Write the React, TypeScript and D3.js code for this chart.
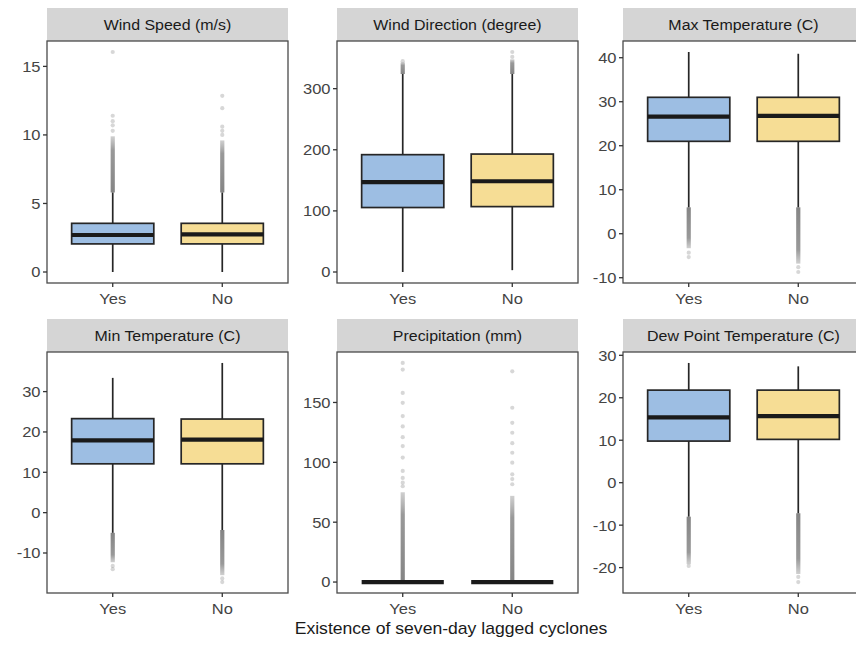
import React from "react";
import * as d3 from "d3";

// ---------- data ----------
const categories = ["Yes", "No"];
const panelTitles = [
  "Wind Speed (m/s)",
  "Wind Direction (degree)",
  "Max Temperature (C)",
  "Min Temperature (C)",
  "Precipitation (mm)",
  "Dew Point Temperature (C)",
];
const xAxisTitle = "Existence of seven-day lagged cyclones";

// box stats [lowerWhisker, q1, median, q3, upperWhisker] for Yes, No
const windSpeedBoxes = [[0, 2.05, 2.7, 3.55, 5.8], [0, 2.05, 2.75, 3.55, 5.8]];
const windDirBoxes = [[0, 105.5, 147, 192, 324], [3, 107, 148.5, 193, 324]];
const maxTempBoxes = [[6.0, 21.0, 26.6, 31.0, 41.3], [6.0, 21.0, 26.8, 31.0, 40.9]];
const minTempBoxes = [[-5.0, 12.1, 17.9, 23.3, 33.4], [-4.3, 12.1, 18.1, 23.2, 37.1]];
const precipBoxes = [[0, 0, 0, 0, 0], [0, 0, 0, 0, 0]];
const dewPointBoxes = [[-8.0, 9.8, 15.4, 21.8, 28.2], [-7.2, 10.2, 15.7, 21.8, 27.4]];

// dense runs of outliers [from, to] for Yes, No
const windSpeedDense = [[5.8, 9.9], [5.8, 9.6]];
const windDirDense = [[324, 343], [324, 348]];
const maxTempDense = [[6.0, -3.3], [6.0, -6.8]];
const minTempDense = [[-5.0, -12.3], [-4.3, -15.5]];
const precipDense = [[0, 75], [0, 72]];
const dewPointDense = [[-8.0, -19.2], [-7.2, -21.5]];

// sparse outliers for Yes, No
const windSpeedSparse = [[10.3, 10.7, 11.0, 11.4, 16.05], [10.0, 10.3, 10.6, 11.95, 12.85]];
const windDirSparse = [[345], [352, 360]];
const maxTempSparse = [[-4.3, -5.3], [-7.6, -8.7]];
const minTempSparse = [[-13.2, -14.0], [-16.3, -17.2]];
const precipSparse = [
  [80, 83, 87, 92.8, 104, 113.6, 121, 130, 138.6, 149.7, 158, 177.5, 183],
  [81.7, 86, 90, 99.7, 108, 116, 124.7, 133, 145.6, 176],
];
const dewPointSparse = [[-19.6], [-22.2, -23.4]];

// y tick labels
const windSpeedTicks = [0, 5, 10, 15];
const windDirTicks = [0, 100, 200, 300];
const maxTempTicks = [-10, 0, 10, 20, 30, 40];
const minTempTicks = [-10, 0, 10, 20, 30];
const precipTicks = [0, 50, 100, 150];
const dewPointTicks = [-20, -10, 0, 10, 20, 30];

// ---------- layout / style ----------
const W = 856;
const H = 645;
const colX = [47, 337, 623];
const panelW = 241;
const rows = [
  { stripTop: 8, top: 41, bottom: 283 },
  { stripTop: 319, top: 352, bottom: 593 },
];
const SX = 1.1;
const FONT = "'Liberation Sans', Arial, Helvetica, sans-serif";
const fills = ["#9dbee3", "#f6dd95"];
const dark = "#262626";

const panels = [
  { boxes: windSpeedBoxes, dense: windSpeedDense, sparse: windSpeedSparse, ticks: windSpeedTicks },
  { boxes: windDirBoxes, dense: windDirDense, sparse: windDirSparse, ticks: windDirTicks },
  { boxes: maxTempBoxes, dense: maxTempDense, sparse: maxTempSparse, ticks: maxTempTicks },
  { boxes: minTempBoxes, dense: minTempDense, sparse: minTempSparse, ticks: minTempTicks },
  { boxes: precipBoxes, dense: precipDense, sparse: precipSparse, ticks: precipTicks },
  { boxes: dewPointBoxes, dense: dewPointDense, sparse: dewPointSparse, ticks: dewPointTicks },
].map((p, i) => ({ ...p, title: panelTitles[i] }));

function Panel({ p, idx }: { p: any; idx: number }) {
  const row = rows[Math.floor(idx / 3)];
  const x0 = colX[idx % 3];
  const all: number[] = [];
  p.boxes.forEach((b: number[]) => all.push(...b));
  p.dense.forEach((d: number[]) => all.push(...d));
  p.sparse.forEach((s: number[]) => all.push(...s));
  const [mn, mx] = d3.extent(all) as [number, number];
  const pad = (mx - mn) * 0.05;
  const y = d3.scaleLinear().domain([mn - pad, mx + pad]).range([row.bottom, row.top]);
  // discrete x scale (ggplot style: 0.6 unit expansion each side)
  const xs = d3.scaleLinear().domain([0.4, 2.6]).range([x0, x0 + panelW]);
  const cx = (i: number) => xs(i + 1);
  const bw = xs(1.75) - xs(1);
  const clipId = `clip${idx}`;
  return (
    <g>
      <defs>
        <clipPath id={clipId}>
          <rect x={x0} y={row.top} width={panelW} height={row.bottom - row.top} />
        </clipPath>
        {p.dense.map((d: number[], i: number) => (
          <linearGradient
            key={i}
            id={`grad${idx}_${i}`}
            gradientUnits="userSpaceOnUse"
            x1={0}
            x2={0}
            y1={y(d[0])}
            y2={y(d[1])}
          >
            <stop offset="0" stopColor="#6f6f6f" stopOpacity={0.85} />
            <stop offset="0.75" stopColor="#777777" stopOpacity={0.75} />
            <stop offset="1" stopColor="#888888" stopOpacity={0.4} />
          </linearGradient>
        ))}
      </defs>
      {/* strip */}
      <rect x={x0} y={row.stripTop} width={panelW} height={row.top - row.stripTop} fill="#d5d5d5" />
      <text
        transform={`translate(${x0 + panelW / 2},${(row.stripTop + row.top) / 2}) scale(${SX},1)`}
        textAnchor="middle"
        dy="0.36em"
        fontSize={14.5}
        fill="#1a1a1a"
        fontFamily={FONT}
      >
        {p.title}
      </text>
      <rect x={x0} y={row.top} width={panelW} height={row.bottom - row.top} fill="#ffffff" />
      <g clipPath={`url(#${clipId})`}>
        {categories.map((c, i) => {
          const b = p.boxes[i];
          const d = p.dense[i];
          return (
            <g key={c}>
              <line x1={cx(i)} x2={cx(i)} y1={y(d[0])} y2={y(d[1])} stroke={`url(#grad${idx}_${i})`} strokeWidth={4.2} />
              {p.sparse[i].map((v: number, k: number) => (
                <circle key={k} cx={cx(i)} cy={y(v)} r={2.1} fill="#7a7a7a" fillOpacity={0.3} />
              ))}
              <line x1={cx(i)} x2={cx(i)} y1={y(b[3])} y2={y(b[4])} stroke={dark} strokeWidth={1.7} />
              <line x1={cx(i)} x2={cx(i)} y1={y(b[1])} y2={y(b[0])} stroke={dark} strokeWidth={1.7} />
              <rect
                x={cx(i) - bw / 2}
                y={y(b[3])}
                width={bw}
                height={Math.max(0, y(b[1]) - y(b[3]))}
                fill={fills[i]}
                stroke={dark}
                strokeWidth={1.7}
              />
              <line x1={cx(i) - bw / 2} x2={cx(i) + bw / 2} y1={y(b[2])} y2={y(b[2])} stroke="#1a1a1a" strokeWidth={4.2} />
            </g>
          );
        })}
      </g>
      <rect
        x={x0}
        y={row.top}
        width={panelW}
        height={row.bottom - row.top}
        fill="none"
        stroke="#4a4a4a"
        strokeWidth={1.3}
      />
      {/* y axis */}
      {p.ticks.map((t: number) => (
        <g key={t}>
          <line x1={x0 - 4} x2={x0} y1={y(t)} y2={y(t)} stroke="#333" strokeWidth={1.3} />
          <text
            transform={`translate(${x0 - 6.5},${y(t)}) scale(${SX},1)`}
            textAnchor="end"
            dy="0.36em"
            fontSize={15}
            fill="#444444"
            fontFamily={FONT}
          >
            {t < 0 ? `-${Math.abs(t)}` : `${t}`}
          </text>
        </g>
      ))}
      {/* x axis */}
      {categories.map((c, i) => (
        <g key={c}>
          <line x1={cx(i)} x2={cx(i)} y1={row.bottom} y2={row.bottom + 4} stroke="#333" strokeWidth={1.3} />
          <text
            transform={`translate(${cx(i)},${row.bottom + 20.5}) scale(${SX},1)`}
            textAnchor="middle"
            fontSize={15}
            fill="#444444"
            fontFamily={FONT}
          >
            {c}
          </text>
        </g>
      ))}
    </g>
  );
}

export default function App() {
  return (
    <svg
      width={W}
      height={H}
      viewBox={`0 0 ${W} ${H}`}
      style={{ position: "absolute", left: 0, top: 0, display: "block", background: "#ffffff" }}
    >
      <rect x={0} y={0} width={W} height={H} fill="#ffffff" />
      {panels.map((p, i) => (
        <Panel key={i} p={p} idx={i} />
      ))}
      <text
        transform={`translate(${451},${634}) scale(${SX},1)`}
        textAnchor="middle"
        fontSize={16}
        fill="#1a1a1a"
        fontFamily={FONT}
      >
        {xAxisTitle}
      </text>
    </svg>
  );
}
